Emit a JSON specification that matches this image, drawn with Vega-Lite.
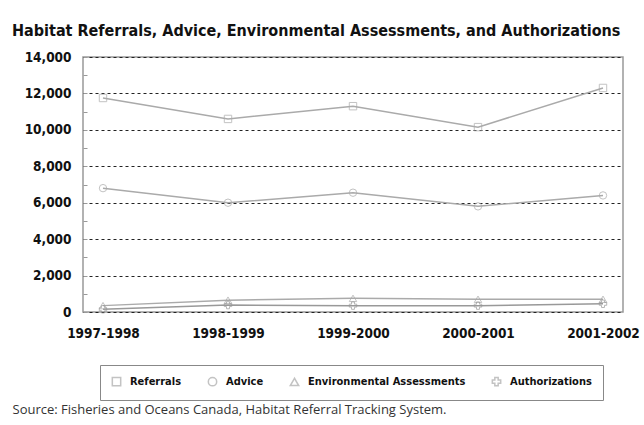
{
  "$schema": "https://vega.github.io/schema/vega-lite/v6.json",
  "width": 540,
  "height": 255,
  "autosize": {"type": "none"},
  "padding": {"left": 83, "top": 57, "right": 21, "bottom": 113},
  "background": "white",
  "title": {
    "text": "Habitat Referrals, Advice, Environmental Assessments, and Authorizations",
    "anchor": "start",
    "frame": "group",
    "dx": -71,
    "offset": 11,
    "font": "DejaVu Sans Condensed",
    "fontSize": 16,
    "fontWeight": "bold",
    "color": "#111"
  },
  "data": {
    "values": [
      {"year": "1997-1998", "series": "Referrals", "count": 11750},
      {"year": "1998-1999", "series": "Referrals", "count": 10600},
      {"year": "1999-2000", "series": "Referrals", "count": 11300},
      {"year": "2000-2001", "series": "Referrals", "count": 10150},
      {"year": "2001-2002", "series": "Referrals", "count": 12300},
      {"year": "1997-1998", "series": "Advice", "count": 6800},
      {"year": "1998-1999", "series": "Advice", "count": 6000},
      {"year": "1999-2000", "series": "Advice", "count": 6550},
      {"year": "2000-2001", "series": "Advice", "count": 5800},
      {"year": "2001-2002", "series": "Advice", "count": 6400},
      {"year": "1997-1998", "series": "Environmental Assessments", "count": 350},
      {"year": "1998-1999", "series": "Environmental Assessments", "count": 650},
      {"year": "1999-2000", "series": "Environmental Assessments", "count": 750},
      {"year": "2000-2001", "series": "Environmental Assessments", "count": 700},
      {"year": "2001-2002", "series": "Environmental Assessments", "count": 700},
      {"year": "1997-1998", "series": "Authorizations", "count": 150},
      {"year": "1998-1999", "series": "Authorizations", "count": 380},
      {"year": "1999-2000", "series": "Authorizations", "count": 350},
      {"year": "2000-2001", "series": "Authorizations", "count": 350},
      {"year": "2001-2002", "series": "Authorizations", "count": 450}
    ]
  },
  "encoding": {
    "x": {
      "field": "year",
      "type": "ordinal",
      "scale": {"type": "point", "padding": 0.16},
      "axis": {
        "title": "Source: Fisheries and Oceans Canada, Habitat Referral Tracking System.",
        "titleX": -71,
        "titleY": 101,
        "titleAlign": "left",
        "titleBaseline": "alphabetic",
        "titleFont": "Open Sans",
        "titleFontSize": 13,
        "titleFontWeight": "normal",
        "titleColor": "#333",
        "labelAngle": 0,
        "labelFont": "DejaVu Sans Condensed",
        "labelFontSize": 13.5,
        "labelFontWeight": "bold",
        "labelColor": "#111",
        "labelPadding": 14,
        "labelOverlap": false,
        "ticks": false,
        "domain": false,
        "grid": false
      }
    },
    "y": {
      "field": "count",
      "type": "quantitative",
      "scale": {"domain": [0, 14000], "nice": false},
      "axis": {
        "title": null,
        "values": [0, 1000, 2000, 3000, 4000, 5000, 6000, 7000, 8000, 9000, 10000, 11000, 12000, 13000, 14000],
        "labelExpr": "datum.value % 2000 === 0 ? format(datum.value, ',') : ''",
        "labelFont": "DejaVu Sans Condensed",
        "labelFontSize": 13.5,
        "labelFontWeight": "bold",
        "labelColor": "#111",
        "labelPadding": 16,
        "tickSize": -4,
        "tickColor": "#999",
        "domain": false,
        "grid": true,
        "gridColor": "#222",
        "gridDash": [3, 3],
        "gridWidth": 1,
        "gridOpacity": {"condition": {"test": "datum.value % 2000 === 0", "value": 1}, "value": 0}
      }
    },
    "color": {
      "field": "series",
      "type": "nominal",
      "sort": ["Referrals", "Advice", "Environmental Assessments", "Authorizations"],
      "scale": {"range": ["#aaa", "#aaa", "#aaa", "#999"]},
      "legend": null
    }
  },
  "layer": [
    {
      "mark": {"type": "line", "strokeWidth": 1.5}
    },
    {
      "mark": {"type": "point", "filled": false, "size": 55, "strokeWidth": 1, "color": "#aaa"},
      "encoding": {
        "shape": {
          "field": "series",
          "type": "nominal",
          "sort": ["Referrals", "Advice", "Environmental Assessments", "Authorizations"],
          "scale": {"range": ["square", "circle", "triangle-up", "cross"]},
          "legend": {
            "title": null,
            "orient": "none",
            "direction": "horizontal",
            "legendX": 17,
            "legendY": 308,
            "columns": 4,
            "padding": 11,
            "strokeColor": "#888",
            "fillColor": "white",
            "symbolStrokeColor": "#aaa",
            "symbolFillColor": "white",
            "symbolSize": 70,
            "labelFont": "DejaVu Sans Condensed",
            "labelFontSize": 11,
            "labelFontWeight": "bold",
            "labelColor": "#111",
            "labelOffset": 8,
            "columnPadding": 23
          }
        }
      }
    }
  ],
  "config": {
    "view": {"stroke": "#999", "strokeWidth": 1.5}
  }
}
